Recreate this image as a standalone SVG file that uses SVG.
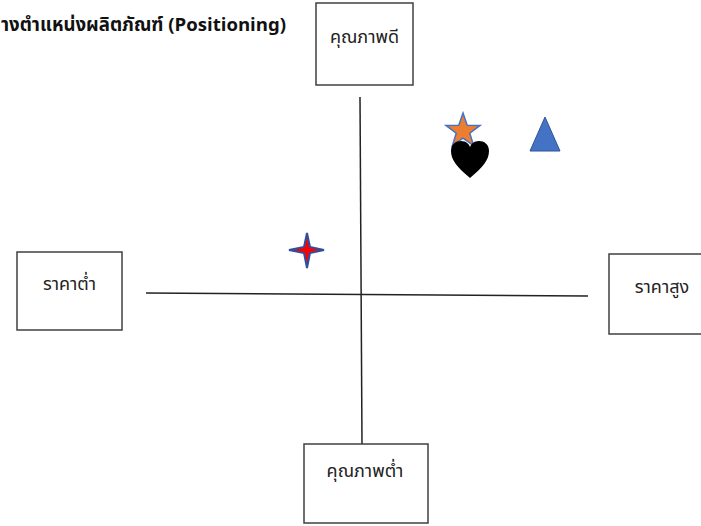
<svg xmlns="http://www.w3.org/2000/svg" width="701" height="526" viewBox="0 0 701 526">
<style>
.box{fill:#fff;stroke:#404040;stroke-width:1.5}
.lbl{font-family:"Noto Sans Thai","Tahoma","DejaVu Sans","Noto Sans",sans-serif;font-size:18px;fill:#222;text-anchor:middle}
.ax{stroke:#222;stroke-width:1.5;fill:none}
</style>
<rect width="701" height="526" fill="#fff"/>
<text x="1" y="31" style="font-family:'Noto Sans Thai','Tahoma','DejaVu Sans','Noto Sans',sans-serif;font-size:18.6px;font-weight:bold;fill:#111">างตำแหน่งผลิตภัณฑ์ (Positioning)</text>
<g id="connectors">
<line class="ax" x1="360" y1="97" x2="362" y2="445"/>
<line class="ax" x1="146" y1="293" x2="588" y2="296"/>
</g>
<g id="top"><rect class="box" x="316" y="3" width="97" height="82"/><text class="lbl" x="364.5" y="43">คุณภาพดี</text></g>
<g id="left"><rect class="box" x="17" y="252" width="105" height="78"/><text class="lbl" x="69.5" y="290">ราคาต่ำ</text></g>
<g id="right"><rect class="box" x="609" y="254" width="100" height="80"/><text class="lbl" x="662" y="293">ราคาสูง</text></g>
<g id="bottom"><rect class="box" x="304" y="444" width="124" height="79"/><text class="lbl" x="365" y="477">คุณภาพต่ำ</text></g>
<g id="star"><polygon points="463,113 467.2,125.2 480.1,125.4 469.8,133.2 473.6,145.6 463,138.2 452.4,145.6 456.2,133.2 445.9,125.4 458.8,125.2" fill="#ED7D31" stroke="#4472C4" stroke-width="1.5"/></g>
<g id="heart"><path d="M470,178 C457,167 451,160 451,151 C451,144 456,141 461,141 C466,141 469,144 470,147 C471,144 474,141 479,141 C484,141 489,144 489,151 C489,160 483,167 470,178 Z" fill="#000"/></g>
<g id="triangle"><polygon points="545,117 560,151 530,151" fill="#4472C4" stroke="#2F5597" stroke-width="1"/></g>
<g id="cross-star"><polygon points="307,233 310,247 324,250 310,253 307,268 304,253 289,250 304,247" fill="#FF0000" stroke="#2F4F9F" stroke-width="2"/></g>
</svg>
